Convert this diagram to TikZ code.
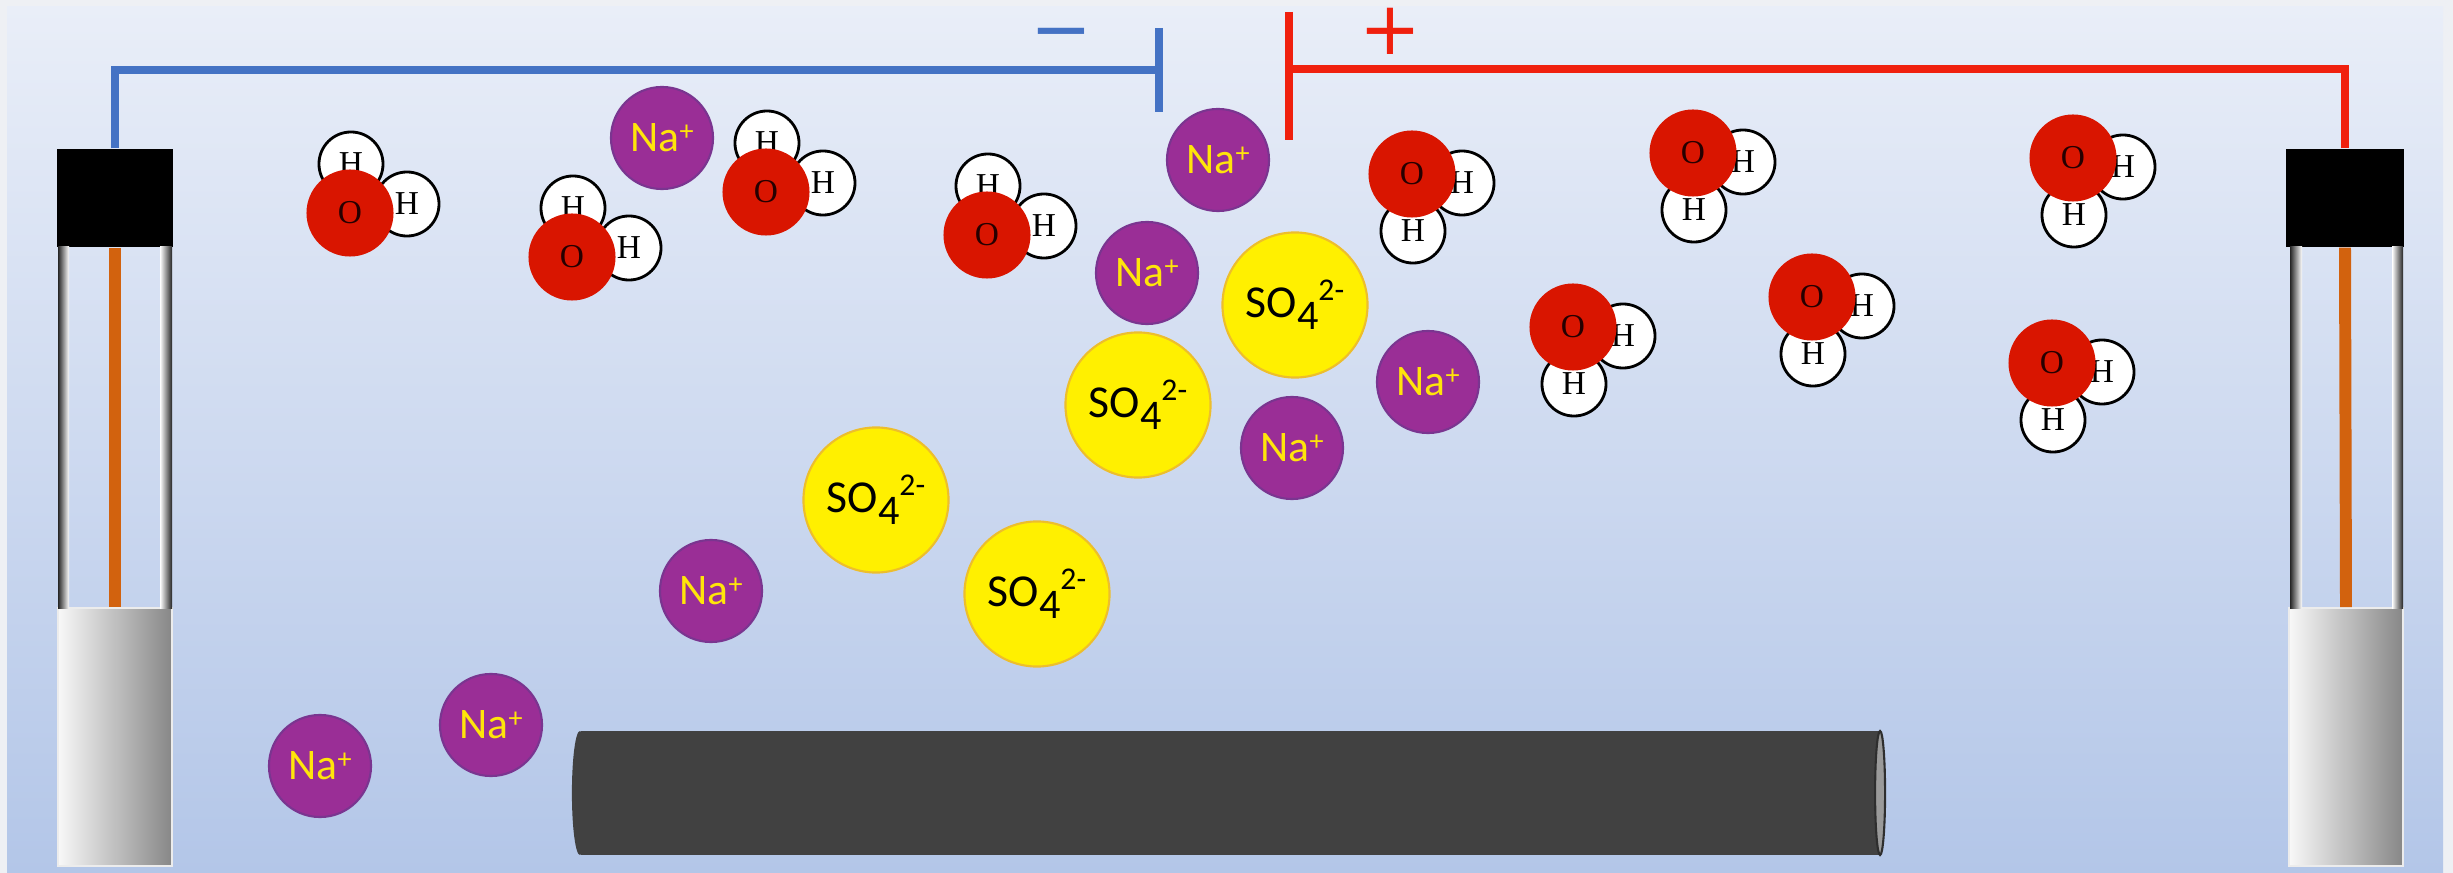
\documentclass[tikz,border=0pt]{standalone}
\usepackage{fontspec}
\setmainfont{Carlito}
\newfontfamily\atomfont{Liberation Serif}
\newfontfamily\signfont{DejaVu Sans}
\usepackage{xcolor}
\usepackage{tikz}

\definecolor{bgtop}{HTML}{E9EEF8}
\definecolor{bgbot}{HTML}{B3C6E8}
\definecolor{framegrey}{HTML}{EEF0F4}
\definecolor{wireblue}{HTML}{4472C4}
\definecolor{wirered}{HTML}{F0200E}
\definecolor{leadorange}{HTML}{D2620E}
\definecolor{oxred}{HTML}{D91500}
\definecolor{napurple}{HTML}{9A2E96}
\definecolor{naedge}{HTML}{7A3590}
\definecolor{nayellow}{HTML}{FFE50A}
\definecolor{soyellow}{HTML}{FFF000}
\definecolor{soedge}{HTML}{EDBE2C}
\definecolor{rodgrey}{HTML}{414141}
\definecolor{rodface}{HTML}{9A9A9A}
\definecolor{blockwhite}{HTML}{F8F8F8}
\definecolor{blockgrey}{HTML}{878787}

% ion labels
\newcommand{\naplus}{Na\raisebox{3.2pt}{\fontsize{8}{8}\selectfont+}}
\newcommand{\sulfate}{SO\raisebox{-3.4pt}{\fontsize{12}{12}\selectfont 4}%
  \raisebox{4.8pt}{\fontsize{9}{9}\selectfont 2-}}

\begin{document}
\begin{tikzpicture}[
      x=0.01cm, y=-0.01cm,
      hatom/.style={circle, draw=black, line width=0.8pt, fill=white,
                    minimum size=0.64cm, inner sep=0pt,
                    font=\atomfont\fontsize{9.5}{10}\selectfont},
      oatom/.style={circle, fill=oxred, minimum size=0.87cm, inner sep=0pt,
                    text=black!85!red, font=\atomfont\fontsize{9.5}{10}\selectfont},
      naion/.style={circle, fill=napurple, draw=naedge, line width=0.6pt,
                    minimum size=1.02cm, inner sep=0pt, text=nayellow,
                    font=\fontsize{12.4}{13}\selectfont},
      soion/.style={circle, fill=soyellow, draw=soedge, line width=0.6pt,
                    minimum size=1.45cm, inner sep=0pt,
                    font=\fontsize{13}{14}\selectfont},
      capbox/.style={fill=black, inner sep=0pt, minimum width=1.16cm,
                     minimum height=0.98cm},
      block/.style={left color=blockwhite, right color=blockgrey,
                    draw=white!85!gray, line width=0.4pt, inner sep=0pt,
                    minimum width=1.14cm, minimum height=2.58cm},
      rod/.style={fill=rodgrey, inner sep=0pt, minimum width=12.98cm,
                  minimum height=1.24cm},
      lead/.style={leadorange, line width=3.4pt},
      wireB/.style={wireblue, line width=2pt, line join=miter},
      wireR/.style={wirered, line width=2.2pt, line join=miter},
      sign/.style={anchor=base, inner sep=0pt,
                   font=\signfont\fontsize{21}{21}\selectfont},
  ]
  \useasboundingbox (0,0) rectangle (2453,873);

  %% tank
  \fill[framegrey] (0,0) rectangle (2453,873);
  \shade[top color=bgtop, bottom color=bgbot] (7,7) rectangle (2443,873);

  %% electrodes: cap, glass tube, lead, base
  \node[capbox] (capL) at (115,198) {};
  \node[block]  (baseL) at (115,737) {};
  \node[capbox, minimum width=1.18cm] (capR) at (2345,198) {};
  \node[block]  (baseR) at (2346,737) {};

  \shade[left color=black!85, right color=white] (58,247) rectangle (69,608);
  \shade[left color=white, right color=black!85] (160,247) rectangle (172,608);
  \shade[left color=black!85, right color=white] (2290,247) rectangle (2302,608);
  \shade[left color=white, right color=black!85] (2392,247) rectangle (2403,608);

  \draw[lead] (capL.south) -- (baseL.north);
  \draw[lead] (capR.south) -- (baseR.north);

  %% battery
  \coordinate (negjoint) at (1159,70);
  \coordinate (posjoint) at (1289,69);
  \draw[wireB] (1159,28) -- (1159,112);
  \draw[wireR] (1289,12) -- (1289,140);
  \node[sign, text=wireblue] (minus) at (1061,55) {−};
  \node[sign, text=wirered]  (plus)  at (1390,55) {+};

  \draw[wireB] (capL.north) |- (negjoint);
  \draw[wireR] (capR.north) |- (posjoint);

  %% graphite rod
  \node[rod] (graphite) at (1230,793) {};
  \fill[rodgrey] (graphite.west) ellipse [x radius=8, y radius=62];
  \filldraw[fill=rodface, draw=rodgrey!70!black, line width=0.6pt]
    (graphite.east) ellipse [x radius=5, y radius=62];

  %% ions
  \foreach \n/\x/\y in {1/662/138, 2/1218/160, 3/1147/273, 4/1428/382,
                        5/1292/448, 6/711/591, 7/491/725, 8/320/766}
    \node[naion] (na\n) at (\x,\y) {\naplus};

  \foreach \n/\x/\y in {1/1295/305, 2/1138/405, 3/876/500, 4/1037/594}
    \node[soion] (so\n) at (\x,\y) {\sulfate};

  %% water, H up and right
  \foreach \n/\x/\y in {1/350/213, 2/572/257, 3/766/192, 4/987/235} {
    \node[hatom] (hA\n) at (\x+1,\y-49) {H};
    \node[hatom] (hB\n) at (\x+57,\y-9) {H};
    \node[oatom] (oL\n) at (\x,\y) {O};
  }

  %% water, H right and down
  \foreach \n/\x/\y in {1/1412/174, 2/1693/153, 3/1573/327, 4/1812/297,
                        5/2073/158, 6/2052/363} {
    \node[hatom] (hC\n) at (\x+50,\y+9) {H};
    \node[hatom] (hD\n) at (\x+1,\y+57) {H};
    \node[oatom] (oR\n) at (\x,\y) {O};
  }

  \end{tikzpicture}
\end{document}
